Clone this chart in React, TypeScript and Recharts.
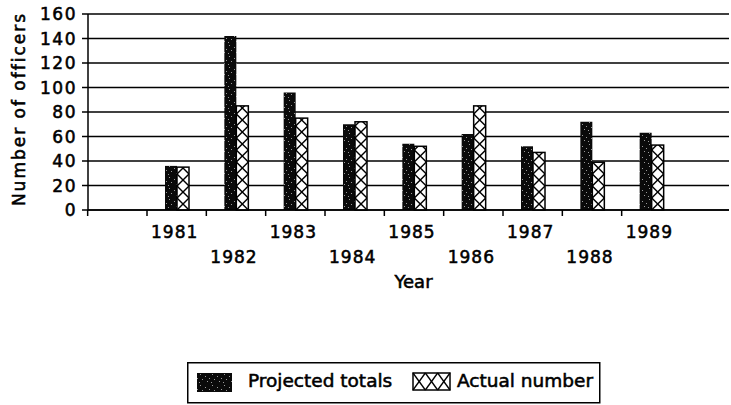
import React from 'react';
import { BarChart, Bar, XAxis, YAxis, CartesianGrid, Legend, Label } from 'recharts';

const years = ['1981', '1982', '1983', '1984', '1985', '1986', '1987', '1988', '1989'];
const projectedTotals = [36, 142, 96, 70, 54, 62, 52, 72, 63];
const actualNumber = [35, 85, 75, 72, 52, 85, 47, 39, 53];
const yTicks = [0, 20, 40, 60, 80, 100, 120, 140, 160];

const data = years.map((year, i) => ({ year, projected: projectedTotals[i], actual: actualNumber[i] }));

const FONT = '"DejaVu Sans", Verdana, sans-serif';
const TEXT_STROKE = 0.55;

const speckles: [number, number][] = [
  [1, 1], [6, 3], [3, 6], [8, 8], [0, 9], [10, 5],
];

const CrossBar = (props: any) => {
  const { x, y, width, height, index } = props;
  if (!height || height <= 0) return null;
  const bottom = y + height;
  const cell = width;
  const n = Math.ceil(height / cell);
  const lines = [];
  for (let i = 0; i < n; i++) {
    const yb = bottom - i * cell;
    const yt = yb - cell;
    lines.push(<line key={'a' + i} x1={x} y1={yb} x2={x + width} y2={yt} stroke="#000" strokeWidth={1.4} />);
    lines.push(<line key={'b' + i} x1={x + width} y1={yb} x2={x} y2={yt} stroke="#000" strokeWidth={1.4} />);
  }
  const cid = `crossclip-${index}`;
  return (
    <g>
      <clipPath id={cid}>
        <rect x={x} y={y} width={width} height={height} />
      </clipPath>
      <rect x={x} y={y} width={width} height={height} fill="#fff" />
      <g clipPath={`url(#${cid})`}>{lines}</g>
      <rect x={x} y={y} width={width} height={height} fill="none" stroke="#000" strokeWidth={1.5} />
    </g>
  );
};

const YearTick = (props: any) => {
  const { x, y, payload, index } = props;
  const half = payload && payload.offset ? payload.offset : 29.6;
  const row = index % 2;
  return (
    <g>
      {index === 0 && (
        <line x1={x - 3 * half} x2={x - 3 * half} y1={y} y2={y + 6} stroke="#000" strokeWidth={1.5} />
      )}
      <line x1={x - half} x2={x - half} y1={y} y2={y + 6} stroke="#000" strokeWidth={1.5} />
      <text
        x={x - 2}
        y={y + (row ? 53 : 28)}
        textAnchor="middle"
        fontFamily={FONT}
        fontSize={17}
        letterSpacing={1}
        fill="#000"
        stroke="#000"
        strokeWidth={TEXT_STROKE}
      >
        {payload.value}
      </text>
    </g>
  );
};

const LegendBox = () => (
  <svg width={414} height={42} style={{ display: 'block' }}>
    <rect x={0.75} y={0.75} width={412} height={40} fill="#fff" stroke="#000" strokeWidth={1.5} />
    <rect x={10} y={11} width={35} height={19} fill="url(#speckle)" />
    <text x={61} y={25} fontFamily={FONT} fontSize={18.5} fill="#000" stroke="#000" strokeWidth={TEXT_STROKE}>
      Projected totals
    </text>
    <g>
      <rect x={226} y={11} width={37} height={17} fill="#fff" stroke="#000" strokeWidth={1.5} />
      {[0, 1, 2].map((k) => (
        <g key={k}>
          <line x1={226 + k * 12.33} y1={11} x2={226 + (k + 1) * 12.33} y2={28} stroke="#000" strokeWidth={1.3} />
          <line x1={226 + (k + 1) * 12.33} y1={11} x2={226 + k * 12.33} y2={28} stroke="#000" strokeWidth={1.3} />
        </g>
      ))}
    </g>
    <text x={270} y={25} fontFamily={FONT} fontSize={18.5} fill="#000" stroke="#000" strokeWidth={TEXT_STROKE}>
      Actual number
    </text>
  </svg>
);

export default function App() {
  return (
    <div style={{ position: 'absolute', left: 0, top: 0, width: 731, height: 405, background: '#fff' }}>
      <BarChart
        width={731}
        height={405}
        data={data}
        margin={{ top: 14, right: 2, left: 0, bottom: 0 }}
        barGap={0}
        barSize={12}
      >
        <defs>
          <pattern id="speckle" width={12} height={11} patternUnits="userSpaceOnUse">
            <rect x={0} y={0} width={12} height={11} fill="#0a0a0a" />
            {speckles.map(([sx, sy], i) => (
              <rect key={i} x={sx} y={sy} width={1} height={1} fill="#999" />
            ))}
          </pattern>
        </defs>
        <CartesianGrid vertical={false} stroke="#000" strokeWidth={1.5} />
        <XAxis
          dataKey="year"
          height={195}
          padding={{ left: 59, right: 48 }}
          axisLine={{ stroke: '#000', strokeWidth: 1.5 }}
          tickLine={false}
          tickSize={0}
          tickMargin={0}
          interval={0}
          tick={<YearTick />}
        >
          <Label
            content={(p: any) => {
              const vb = p.viewBox || {};
              return (
                <text
                  x={vb.x + vb.width / 2 + 5}
                  y={vb.y + 78}
                  textAnchor="middle"
                  fontFamily={FONT}
                  fontSize={18}
                  fill="#000"
                  stroke="#000"
                  strokeWidth={TEXT_STROKE}
                >
                  Year
                </text>
              );
            }}
          />
        </XAxis>
        <YAxis
          width={88}
          domain={[0, 160]}
          ticks={yTicks}
          interval={0}
          axisLine={{ stroke: '#000', strokeWidth: 1.5 }}
          tickLine={{ stroke: '#000', strokeWidth: 1.5 }}
          tickSize={6}
          tickMargin={5}
          tick={{ fill: '#000', stroke: '#000', strokeWidth: TEXT_STROKE, fontSize: 17, fontFamily: FONT, letterSpacing: 1.5 }}
        >
          <Label
            content={() => (
              <text
                x={19}
                y={109}
                transform="rotate(-90 19 109)"
                textAnchor="middle"
                dominantBaseline="central"
                fontFamily={FONT}
                fontSize={17}
                letterSpacing={2}
                fill="#000"
                stroke="#000"
                strokeWidth={TEXT_STROKE}
              >
                Number of officers
              </text>
            )}
          />
        </YAxis>
        <Legend
          layout="horizontal"
          verticalAlign="middle"
          align="center"
          wrapperStyle={{ position: 'absolute', left: 187, top: 362, width: 414, height: 42 }}
          content={() => <LegendBox />}
        />
        <Bar dataKey="projected" name="Projected totals" fill="url(#speckle)" isAnimationActive={false} />
        <Bar dataKey="actual" name="Actual number" shape={<CrossBar />} isAnimationActive={false} />
      </BarChart>
    </div>
  );
}
